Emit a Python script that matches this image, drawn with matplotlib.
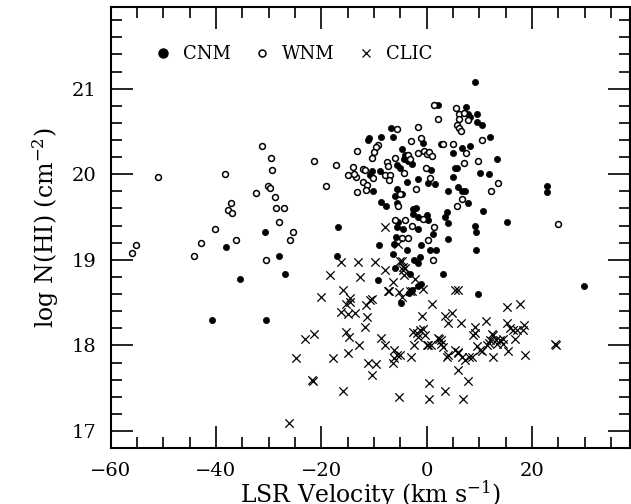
import numpy as np
import matplotlib
matplotlib.use("Agg")
import matplotlib.pyplot as plt
from matplotlib.ticker import MultipleLocator
from matplotlib.lines import Line2D

plt.rcParams['font.family'] = ['DejaVu Serif']
plt.rcParams['mathtext.fontset'] = 'dejavuserif'

# ---- data (LSR velocity km/s, log N(HI)) ----
cnm_v = [9.2, 2.1, 7.5, 7.8, 8.3, 9.5, 9.5, 10.5, -6.7, -10.9, -8.7, -6.3, 12.1,
         -4.6, -4.1, -4.3, -3.6, -5.7, -2.8, -5.0, -0.6, 2.8, 6.7, 8.3, 5.0, 13.3,
         5.4, 5.7, 10.2, 11.8, -10.4, -8.8, -10.7, 0.8, -1.6, 0.3, 5.0, -3.8, 1.6,
         -5.7, -6.0, -4.7, -10.2, 4.1, 6.0, 6.7, 7.3, 7.9, 10.7, 15.2, -8.7, -7.7,
         -5.7, -2.6, -2.0, -1.7, -2.5, 0.0, 0.3, 3.8, 3.5, 4.1, -16.9, -5.4, -5.7,
         -4.5, -1.7, 9.2, 9.4, 1.3, -5.8, -6.1, -3.8, -1.1, -9.0, 0.7, 1.8, -6.4,
         4.0, 9.3, -1.2, -1.7, -2.4, -17.1, -6.0, -3.1, -9.2, 3.2, -1.6, -1.1,
         -3.3, -2.8, -4.8, 9.7, 29.9, -30.7, -38.0, -28.1, -26.9, -35.4, -40.7,
         -30.5, -11.1, 22.8, 22.8]
cnm_n = [21.08, 20.81, 20.79, 20.70, 20.67, 20.70, 20.61, 20.58, 20.54, 20.42,
         20.43, 20.43, 20.44, 20.29, 20.22, 20.18, 20.16, 20.11, 20.12, 20.07,
         20.36, 20.35, 20.31, 20.33, 20.25, 20.18, 20.07, 20.07, 20.02, 20.00,
         20.04, 20.04, 19.99, 20.05, 19.94, 19.90, 19.97, 19.91, 19.89, 19.83,
         19.75, 19.77, 19.80, 19.80, 19.85, 19.81, 19.80, 19.67, 19.57, 19.44,
         19.68, 19.63, 19.67, 19.59, 19.60, 19.50, 19.54, 19.52, 19.46, 19.56,
         19.50, 19.43, 19.38, 19.44, 19.38, 19.36, 19.36, 19.40, 19.32, 19.30,
         19.27, 19.19, 19.12, 19.17, 19.17, 19.11, 19.11, 19.07, 19.24, 19.11,
         19.03, 18.96, 19.00, 19.04, 18.91, 18.84, 18.77, 18.84, 18.70, 18.72,
         18.61, 18.65, 18.50, 18.60, 18.70, 19.32, 19.15, 19.04, 18.84, 18.78,
         18.30, 18.30, 20.40, 19.86, 19.79]

wnm_v = [-55.2, -56.0, -51.0, -38.3, -31.3, -29.6, -29.3, -32.3, -30.2, -29.7,
         -28.8, -37.2, -37.8, -37.0, -28.5, -27.1, -28.0, -40.1, -25.4, -25.9,
         -36.2, -42.9, -44.1, -30.4, -21.4, -17.2, -13.2, -13.9, -12.0, -19.1,
         1.4, 5.6, 6.2, 6.1, 5.7, 6.1, 6.5, 7.2, 7.8, 2.2, -5.7, -1.6, -3.0, -1.1,
         -9.3, -9.6, -10.0, -10.4, -6.0, -3.5, -3.1, -1.6, -0.5, 0.0, 0.5, 1.0,
         3.2, 5.1, 7.5, 10.5, -14.9, -13.4, -13.8, -11.7, -7.6, -7.4, -7.9, -6.9,
         -4.3, -0.1, 0.7, 7.1, 9.7, -12.0, -11.4, -13.3, -11.5, -10.1, -7.1, -2.0,
         6.7, 5.7, 13.6, 12.2, -5.0, -5.4, -6.0, -4.1, -2.8, -0.7, 1.4, -4.7, -3.5,
         0.2, 1.3, 25.0]
wnm_n = [19.17, 19.08, 19.97, 20.00, 20.33, 20.19, 20.05, 19.78, 19.86, 19.84,
         19.73, 19.66, 19.58, 19.55, 19.61, 19.61, 19.44, 19.36, 19.32, 19.23,
         19.23, 19.20, 19.04, 19.00, 20.16, 20.11, 20.27, 20.08, 20.06, 19.86,
         20.81, 20.77, 20.70, 20.64, 20.58, 20.54, 20.51, 20.71, 20.63, 20.64,
         20.53, 20.55, 20.39, 20.42, 20.34, 20.32, 20.26, 20.19, 20.19, 20.23,
         20.18, 20.25, 20.27, 20.24, 20.26, 20.21, 20.35, 20.35, 20.25, 20.40,
         19.99, 19.97, 20.00, 20.05, 20.14, 20.10, 19.99, 19.99, 20.01, 20.07,
         19.96, 20.13, 20.16, 19.91, 19.88, 19.79, 19.82, 19.96, 19.93, 19.83,
         19.71, 19.63, 19.90, 19.81, 19.77, 19.63, 19.47, 19.46, 19.40, 19.48,
         19.38, 19.25, 19.26, 19.23, 19.00, 19.42]

clic_v = [-16.3, -13.0, -9.8, -18.3, -12.6, -7.8, -4.7, -4.5, -4.3, -6.4, -2.2,
          -7.4, -5.2, -4.6, -2.8, -0.7, 5.4, 6.0, -20.0, -15.8, -14.5, -15.3,
          -16.3, -14.9, -13.6, -11.5, -10.4, -11.4, -11.7, 1.1, -0.9, 3.5, 4.8,
          4.1, 6.5, 11.3, 9.2, 15.2, 17.8, 15.3, 18.5, -23.1, -21.4, -15.3, -14.8,
          -12.8, -14.9, -17.7, -24.8, -8.6, -7.9, -6.2, -5.7, -6.2, -5.0, -3.0,
          -11.1, -9.6, -10.3, -6.4, -2.4, -2.5, -1.9, -1.2, -0.7, -0.3, 0.2, 0.8,
          2.4, 2.8, 3.1, 3.8, 5.4, 6.0, 6.7, 7.3, 8.1, 9.5, 10.5, 11.4, 12.1,
          12.7, 13.3, 14.0, 14.6, 12.6, 15.4, 16.8, 16.5, 18.7, 8.9, 5.9, 7.9,
          7.0, 3.5, 0.5, 0.5, -5.2, -15.8, -21.6, -21.8, -26.2, -1.6, 24.4, 24.6,
          15.9, 17.1, 18.4, 0.0, 2.2, 2.7, 4.1, 5.9, 8.6, 10.2, 11.9, 12.4, 13.2,
          14.5, -7.9, -5.4, -5.0, -4.4, -4.1, -7.1, -3.1, -14.5, -10.7, 9.2]
clic_n = [18.98, 18.98, 18.97, 18.82, 18.80, 18.88, 18.99, 18.92, 18.82, 18.74,
          18.78, 18.64, 18.62, 18.57, 18.64, 18.66, 18.65, 18.65, 18.57, 18.65,
          18.55, 18.49, 18.39, 18.37, 18.38, 18.47, 18.54, 18.33, 18.22, 18.48,
          18.35, 18.35, 18.38, 18.26, 18.26, 18.29, 18.22, 18.45, 18.48, 18.26,
          18.24, 18.08, 18.13, 18.16, 18.10, 18.00, 17.91, 17.85, 17.85, 18.09,
          18.00, 17.95, 17.89, 17.85, 17.89, 17.87, 17.79, 17.78, 17.66, 17.79,
          18.00, 18.16, 18.14, 18.18, 18.19, 18.12, 18.00, 18.00, 18.08, 18.02,
          17.98, 17.87, 17.95, 17.91, 17.87, 17.83, 17.87, 17.99, 17.94, 18.00,
          18.06, 18.12, 18.02, 18.06, 18.02, 17.87, 17.94, 18.07, 18.18, 17.89,
          18.12, 17.71, 17.59, 17.37, 17.47, 17.56, 17.38, 17.40, 17.47, 17.59,
          17.60, 17.10, 18.10, 18.02, 18.00, 18.20, 18.18, 18.18, 18.01, 18.09,
          18.06, 17.89, 17.92, 17.87, 17.95, 18.03, 18.13, 18.06, 18.07, 19.38,
          19.19, 18.99, 18.88, 18.90, 18.64, 18.64, 18.51, 18.53, 18.14]

fig = plt.figure(figsize=(6.31, 5.04), dpi=100)
ax = fig.add_axes([0.1753, 0.1107, 0.8237, 0.8748])

ax.scatter(cnm_v, cnm_n, s=20, marker='o', facecolor='black', edgecolor='black',
           linewidths=0.5)
ax.scatter(wnm_v, wnm_n, s=18, marker='o', facecolor='white', edgecolor='black',
           linewidths=1.1)
ax.scatter(clic_v, clic_n, s=36, marker='x', color='black', linewidths=0.9)

ax.set_xlim(-60, 38.7)
ax.set_ylim(16.8, 21.95)
ax.xaxis.set_major_locator(MultipleLocator(20))
ax.xaxis.set_minor_locator(MultipleLocator(5))
ax.yaxis.set_major_locator(MultipleLocator(1))
ax.yaxis.set_minor_locator(MultipleLocator(0.2))
ax.tick_params(which='both', direction='in', top=True, right=True, labelsize=14)
ax.tick_params(which='major', length=16, width=1.2, pad=10)
ax.tick_params(which='minor', length=8, width=1.2)
for sp in ax.spines.values():
    sp.set_linewidth(1.5)

ax.set_xlabel(r'LSR Velocity (km s$^{-1}$)', fontsize=17, labelpad=-1)
ax.set_ylabel(r'log N(HI) (cm$^{-2}$)', fontsize=17, labelpad=8)

# legend keys
handles = [Line2D([], [], ls='', marker='o', ms=6.5, mfc='black', mec='black'),
           Line2D([], [], ls='', marker='o', ms=5, mfc='white', mec='black', mew=1.1),
           Line2D([], [], ls='', marker='x', ms=5.5, color='black', mew=0.9)]
ax.legend(handles, ['CNM', 'WNM', 'CLIC'], loc='upper left', ncol=3, frameon=False,
          fontsize=13, handlelength=1.0, handletextpad=0.6, columnspacing=1.25,
          borderpad=0, borderaxespad=0, bbox_to_anchor=(0.0835, 0.914))

fig.savefig('out.png', dpi=100)
